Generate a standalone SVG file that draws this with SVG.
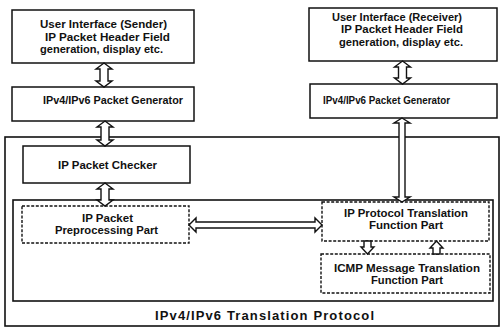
<svg xmlns="http://www.w3.org/2000/svg" width="501" height="335" viewBox="0 0 501 335">
  <style>
    .box { fill: #fff; stroke: #111; stroke-width: 1.5; }
    .frame { fill: none; stroke: #111; stroke-width: 1.6; }
    .dash { fill: none; stroke: #111; stroke-width: 1.4; stroke-dasharray: 3 1.6; }
    .arrow { fill: #fff; stroke: #111; stroke-width: 1.4; stroke-linejoin: miter; }
    text { font-family: "Liberation Sans", Arial, sans-serif; font-weight: bold; font-size: 11.5px; fill: #111; }
    text.caption { font-size: 13px; }
  </style>
  <rect width="501" height="335" fill="#fff"/>

  <!-- translation protocol container -->
  <g id="translation-protocol">
    <rect class="frame" x="5" y="137" width="494" height="189"/>
    <rect class="frame" x="13" y="200" width="480" height="101"/>
    <text class="caption" x="155" y="320" textLength="219" lengthAdjust="spacing">IPv4/IPv6 Translation Protocol</text>
  </g>

  <!-- sender side -->
  <g id="ui-sender">
    <rect class="box" x="12" y="10" width="182" height="53"/>
    <text x="40" y="28" textLength="127" lengthAdjust="spacingAndGlyphs">User Interface (Sender)</text>
    <text x="45" y="41" textLength="125" lengthAdjust="spacingAndGlyphs">IP Packet Header Field</text>
    <text x="40" y="53" textLength="123" lengthAdjust="spacingAndGlyphs">generation, display etc.</text>
  </g>
  <g id="generator-sender">
    <rect class="box" x="12" y="87" width="182" height="34"/>
    <text x="43" y="104" textLength="140" lengthAdjust="spacingAndGlyphs">IPv4/IPv6 Packet Generator</text>
  </g>
  <g id="packet-checker">
    <rect class="box" x="23" y="146" width="167" height="37"/>
    <text x="58" y="169" textLength="99" lengthAdjust="spacingAndGlyphs">IP Packet Checker</text>
  </g>
  <g id="preprocessing">
    <rect class="dash" x="22" y="206" width="167" height="37"/>
    <text x="82" y="222" textLength="51" lengthAdjust="spacingAndGlyphs">IP Packet</text>
    <text x="55" y="234" textLength="103" lengthAdjust="spacingAndGlyphs">Preprocessing Part</text>
  </g>

  <!-- receiver side -->
  <g id="ui-receiver">
    <rect class="box" x="309" y="8" width="188" height="53"/>
    <text x="332" y="21" textLength="130" lengthAdjust="spacingAndGlyphs">User Interface (Receiver)</text>
    <text x="341" y="33" textLength="122" lengthAdjust="spacingAndGlyphs">IP Packet Header Field</text>
    <text x="339" y="46" textLength="124" lengthAdjust="spacingAndGlyphs">generation, display etc.</text>
  </g>
  <g id="generator-receiver">
    <rect class="box" x="310" y="84" width="187" height="34"/>
    <text x="323" y="104" textLength="127" lengthAdjust="spacingAndGlyphs">IPv4/IPv6 Packet Generator</text>
  </g>
  <g id="protocol-translation">
    <rect class="dash" x="322" y="202" width="167" height="39"/>
    <text x="344" y="217" textLength="124" lengthAdjust="spacingAndGlyphs">IP Protocol Translation</text>
    <text x="369" y="229" textLength="74" lengthAdjust="spacingAndGlyphs">Function Part</text>
  </g>
  <g id="icmp-translation">
    <rect class="dash" x="321" y="254" width="169" height="39"/>
    <text x="334" y="272" textLength="146" lengthAdjust="spacingAndGlyphs">ICMP Message Translation</text>
    <text x="371" y="284" textLength="72" lengthAdjust="spacingAndGlyphs">Function Part</text>
  </g>

  <!-- connectors: hollow block arrows -->
  <g id="connectors">
    <!-- sender UI <-> generator -->
    <polygon class="arrow" points="104,63 112,69 108,69 108,81 112,81 104,87 96,81 100,81 100,69 96,69"/>
    <!-- generator <-> checker -->
    <polygon class="arrow" points="105,121 113,127 109,127 109,140 113,140 105,146 97,140 101,140 101,127 97,127"/>
    <!-- checker <-> preprocessing -->
    <polygon class="arrow" points="105,183 113,189 109,189 109,200 113,200 105,206 97,200 101,200 101,189 97,189"/>
    <!-- receiver UI <-> generator -->
    <polygon class="arrow" points="402.5,61 410.5,67 406.5,67 406.5,78 410.5,78 402.5,84 394.5,78 398.5,78 398.5,67 394.5,67"/>
    <!-- receiver generator <-> protocol translation -->
    <polygon class="arrow" points="402,118 410,123 405,123 405,197 410,197 402,202 394,197 399,197 399,123 394,123"/>
    <!-- preprocessing <-> protocol translation -->
    <polygon class="arrow" points="189,225 196,218 196,222 315,222 315,218 322,225 315,232 315,228 196,228 196,232"/>
    <!-- protocol translation -> ICMP -->
    <polygon class="arrow" points="364,241 371,241 371,247 374,247 367.5,254 361,247 364,247"/>
    <!-- ICMP -> protocol translation -->
    <polygon class="arrow" points="433,254 440,254 440,248 443,248 436.5,241 430,248 433,248"/>
  </g>
</svg>
